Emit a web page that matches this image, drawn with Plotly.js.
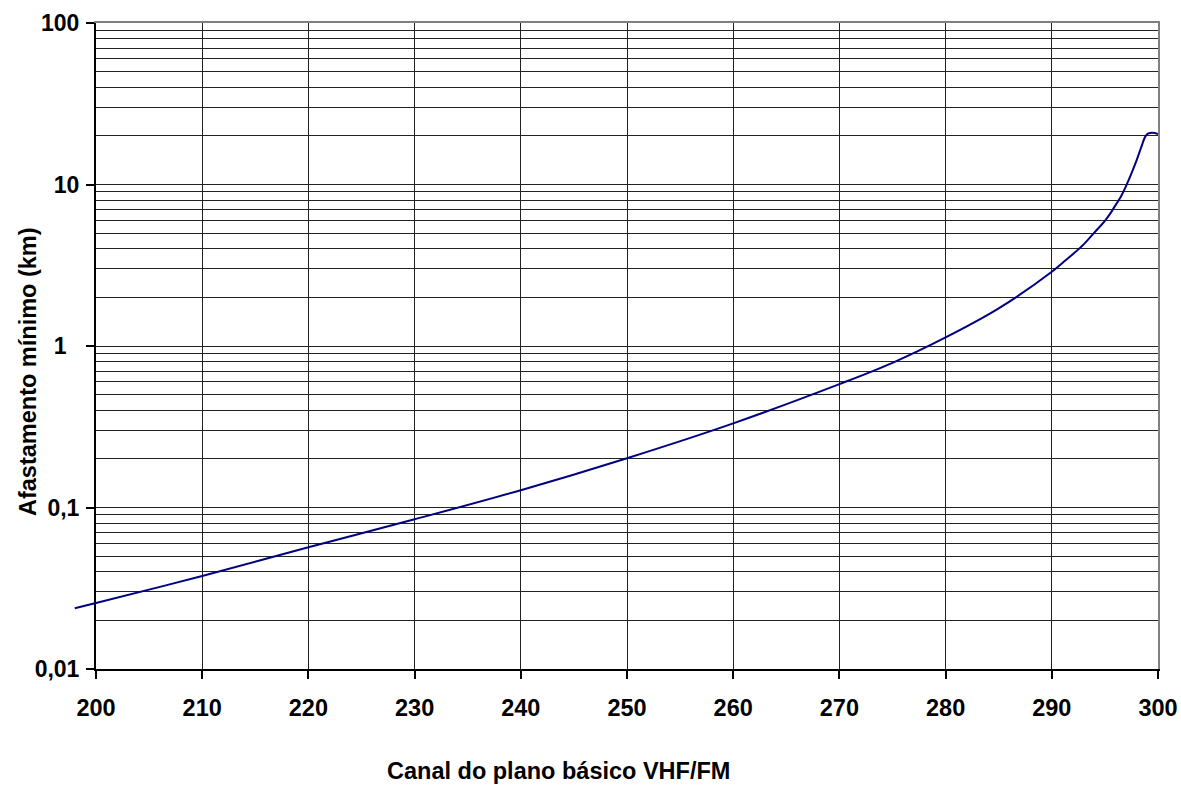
<!DOCTYPE html>
<html>
<head>
<meta charset="utf-8">
<script src="https://cdn.plot.ly/plotly-3.0.1.min.js"></script>
<style>html,body{margin:0;padding:0;background:#fff;}#chart{width:1181px;height:785px;}</style>
</head>
<body>
<div id="chart"></div>
<script>
// Data
const channel = [198, 200, 210, 220, 230, 240, 250, 260, 270, 275, 280, 285, 290, 291, 292, 293, 294, 295, 295.5, 296, 296.5, 297, 297.5, 298, 298.5, 298.8, 299.1, 299.5, 300];
const distanceKm = [0.0238, 0.0256, 0.0377, 0.0567, 0.0845, 0.128, 0.202, 0.332, 0.581, 0.787, 1.13, 1.71, 2.88, 3.27, 3.71, 4.26, 5.03, 5.96, 6.6, 7.45, 8.4, 9.8, 11.7, 14.2, 17.6, 19.8, 20.7, 20.9, 20.5];

const xTickVals = [200, 210, 220, 230, 240, 250, 260, 270, 280, 290, 300];
const yTickVals = [0.01, 0.1, 1, 10, 100];
const yTickText = ['0,01', '0,1', '1\u00a0\u00a0', '10', '100'];
const yMinorVals = [];
[0.01, 0.1, 1, 10].forEach(d => { for (let k = 2; k <= 9; k++) yMinorVals.push(+(d * k).toPrecision(3)); });

const xTitle = 'Canal do plano básico VHF/FM';
const yTitle = 'Afastamento mínimo (km)';

// layout geometry
const W = 1181, H = 785;
const mL = 70, mR = 23, mT = 23, mB = 116;
const axisLeftPx = 96;            // where channel 200 sits
const plotW = W - mL - mR;
const xDomStart = (axisLeftPx - mL) / plotW;
const xMin = 200, xMax = 300;
const pxPerUnit = (W - mR - axisLeftPx) / (xMax - xMin);
const x2Min = xMin - (axisLeftPx - mL) / pxPerUnit;

const font = {family: 'Liberation Sans, Arial, sans-serif', size: 23.5, color: '#000', weight: 'bold'};
const yTickFont = {family: 'Liberation Sans, Arial, sans-serif', size: 23, color: '#000', weight: 'bold'};
const gridCol = '#222222';

const curve = {
  x: channel, y: distanceKm, type: 'scatter', mode: 'lines',
  xaxis: 'x2', yaxis: 'y2',
  line: {color: '#000080', width: 2, shape: 'spline', smoothing: 1},
  hoverinfo: 'x+y'
};
// empty traces so the framing axes get their subplots drawn
const frameMain = {x: [], y: [], type: 'scatter', mode: 'lines', xaxis: 'x', yaxis: 'y', hoverinfo: 'skip'};
const frameTop = {x: [], y: [], type: 'scatter', mode: 'lines', xaxis: 'x3', yaxis: 'y', hoverinfo: 'skip'};
const frameRight = {x: [], y: [], type: 'scatter', mode: 'lines', xaxis: 'x', yaxis: 'y3', hoverinfo: 'skip'};

const layout = {
  width: W, height: H,
  margin: {l: mL, r: mR, t: mT, b: mB, pad: 0},
  paper_bgcolor: '#ffffff', plot_bgcolor: 'rgba(0,0,0,0)',
  showlegend: false,
  font: font,
  xaxis: {
    domain: [xDomStart, 1], anchor: 'y', range: [xMin, xMax],
    tickmode: 'array', tickvals: xTickVals, ticktext: xTickVals.map(String),
    ticks: 'outside', ticklen: 8, tickwidth: 2, tickcolor: '#000',
    showline: true, linecolor: '#000', linewidth: 2,
    showgrid: true, gridcolor: gridCol, gridwidth: 1,
    zeroline: false, tickfont: font, ticklabelstandoff: 9
  },
  yaxis: {
    domain: [0, 1], anchor: 'x', type: 'log', range: [-2, 2],
    tickmode: 'array', tickvals: yTickVals, ticktext: yTickText,
    ticks: 'outside', ticklen: 8, tickwidth: 2, tickcolor: '#000',
    showline: true, linecolor: '#000', linewidth: 2,
    showgrid: true, gridcolor: gridCol, gridwidth: 1,
    minor: {tickmode: 'array', tickvals: yMinorVals, showgrid: true, gridcolor: gridCol, gridwidth: 1, ticks: ''},
    zeroline: false, tickfont: yTickFont, ticklabelstandoff: 2
  },
  xaxis3: {
    overlaying: 'x', side: 'top', anchor: 'y', range: [xMin, xMax],
    showline: true, linecolor: '#808080', linewidth: 2,
    showgrid: false, ticks: '', showticklabels: false, zeroline: false
  },
  yaxis3: {
    overlaying: 'y', side: 'right', anchor: 'x', type: 'log', range: [-2, 2],
    showline: true, linecolor: '#808080', linewidth: 2,
    showgrid: false, ticks: '', showticklabels: false, zeroline: false
  },
  xaxis2: {domain: [0, 1], anchor: 'y2', range: [x2Min, xMax], visible: false, showgrid: false, zeroline: false},
  yaxis2: {domain: [0, 1], anchor: 'x2', type: 'log', range: [-2, 2], visible: false, showgrid: false, zeroline: false},
  annotations: [
    {text: xTitle, xref: 'paper', yref: 'paper', x: (558 - mL) / plotW, y: -(771 - (H - mB)) / (H - mT - mB),
     xanchor: 'center', yanchor: 'middle', showarrow: false, font: font},
    {text: yTitle, xref: 'paper', yref: 'paper', x: -(mL - 28) / plotW, y: 1 - (372 - mT) / (H - mT - mB),
     xanchor: 'center', yanchor: 'middle', textangle: -90, showarrow: false, font: font}
  ]
};

Plotly.newPlot('chart', [frameMain, frameTop, frameRight, curve], layout, {displayModeBar: false, staticPlot: true});
</script>
</body>
</html>
